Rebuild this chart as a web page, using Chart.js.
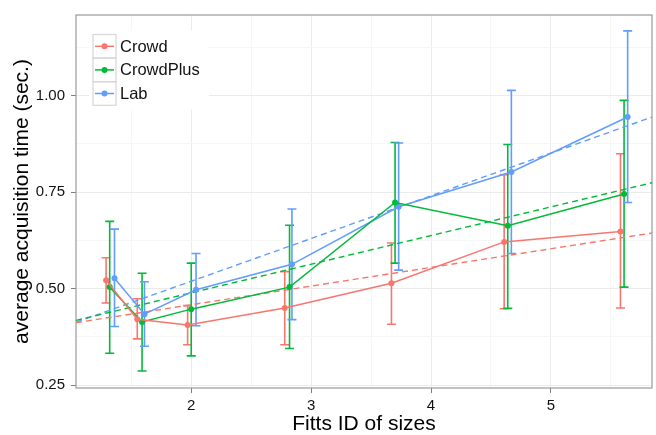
<!DOCTYPE html>
<html>
<head>
<meta charset="utf-8">
<script src="https://cdn.jsdelivr.net/npm/chart.js@4.4.1/dist/chart.umd.min.js"></script>
<style>
  html, body { margin: 0; padding: 0; background: #fff; }
</style>
</head>
<body>
<canvas id="chart" width="656" height="435"></canvas>
<script>
const seriesNames = ["Crowd", "CrowdPlus", "Lab"]
const seriesColors = ["#F8766D", "#00BA38", "#619CFF"]

// x is dodged a little per group, like position_dodge in the original
const crowdX  = [1.29, 1.55, 1.97, 2.78, 3.67, 4.61, 5.58]
const crowdY  = [0.522, 0.421, 0.406, 0.450, 0.514, 0.621, 0.648]
const crowdLo = [0.463, 0.370, 0.355, 0.355, 0.408, 0.448, 0.450]
const crowdHi = [0.580, 0.474, 0.456, 0.544, 0.618, 0.795, 0.849]

const plusX  = [1.32, 1.59, 2.00, 2.82, 3.70, 4.64, 5.61]
const plusY  = [0.504, 0.414, 0.447, 0.504, 0.723, 0.663, 0.745]
const plusLo = [0.333, 0.287, 0.326, 0.345, 0.566, 0.449, 0.504]
const plusHi = [0.674, 0.540, 0.566, 0.664, 0.878, 0.873, 0.987]

const labX  = [1.36, 1.61, 2.04, 2.84, 3.73, 4.67, 5.64]
const labY  = [0.527, 0.434, 0.497, 0.563, 0.712, 0.802, 0.944]
const labLo = [0.402, 0.351, 0.404, 0.420, 0.548, 0.591, 0.723]
const labHi = [0.654, 0.518, 0.591, 0.706, 0.877, 1.013, 1.167]

// linear fits, value at the left and right end of the x range
const fitX     = [1.039, 5.843]
const crowdFit = [0.412, 0.644]
const plusFit  = [0.418, 0.774]
const labFit   = [0.413, 0.944]

const xTicks = [1.5, 2, 2.5, 3, 3.5, 4, 4.5, 5, 5.5]
const yTicks = [0.25, 0.375, 0.5, 0.625, 0.75, 0.875, 1.0, 1.125]

const groups = [
  { x: crowdX, y: crowdY, lo: crowdLo, hi: crowdHi, fit: crowdFit },
  { x: plusX,  y: plusY,  lo: plusLo,  hi: plusHi,  fit: plusFit },
  { x: labX,   y: labY,   lo: labLo,   hi: labHi,   fit: labFit }
]

const FONT = '"Liberation Sans", Arial, sans-serif'

function pts(xs, ys) {
  return xs.map((x, i) => ({ x: x, y: ys[i] }))
}

function isMajor(v) {
  return Math.abs(v - Math.round(v)) < 1e-6
}

function isMajorY(v) {
  return Math.abs(v * 4 - Math.round(v * 4)) < 1e-6
}

var datasets = []
groups.forEach((g, i) => {
  datasets.push({
    label: seriesNames[i],
    data: pts(g.x, g.y),
    showLine: true,
    borderColor: seriesColors[i],
    backgroundColor: seriesColors[i],
    borderWidth: 1.5,
    pointRadius: 3,
    pointBorderWidth: 0
  })
})
groups.forEach((g, i) => {
  datasets.push({
    label: seriesNames[i] + " fit",
    data: pts(fitX, g.fit),
    showLine: true,
    borderColor: seriesColors[i],
    borderWidth: 1.4,
    borderDash: [6, 4],
    pointRadius: 0
  })
})

// error bars drawn under the lines
const errorBars = {
  id: "errorBars",
  beforeDatasetsDraw(chart) {
    const { ctx, scales: { x, y } } = chart
    ctx.save()
    ctx.lineWidth = 1.6
    groups.forEach((g, i) => {
      ctx.strokeStyle = seriesColors[i]
      g.x.forEach((v, j) => {
        var px = x.getPixelForValue(v)
        var top = y.getPixelForValue(g.hi[j])
        var bot = y.getPixelForValue(g.lo[j])
        ctx.beginPath()
        ctx.moveTo(px, top); ctx.lineTo(px, bot)
        ctx.moveTo(px - 4.5, top); ctx.lineTo(px + 4.5, top)
        ctx.moveTo(px - 4.5, bot); ctx.lineTo(px + 4.5, bot)
        ctx.stroke()
      })
    })
    ctx.restore()
  }
}

const panelBorder = {
  id: "panelBorder",
  beforeDatasetsDraw(chart) {
    const { ctx, chartArea: a } = chart
    ctx.save()
    ctx.strokeStyle = "#9a9a9a"
    ctx.lineWidth = 1.2
    ctx.strokeRect(a.left, a.top, a.right - a.left, a.bottom - a.top)
    ctx.restore()
  }
}

// ggplot style legend box in the top left corner
const keyLegend = {
  id: "keyLegend",
  afterDraw(chart) {
    const ctx = chart.ctx
    var left = 93, top = 34.5, rowH = 23.6, keyW = 23
    ctx.save()
    ctx.fillStyle = "#fff"
    ctx.fillRect(left - 4, top - 4, 120, rowH * 3 + 8)
    seriesNames.forEach((name, i) => {
      var yTop = top + i * rowH
      var cy = yTop + rowH / 2
      ctx.strokeStyle = "#d6d6d6"
      ctx.lineWidth = 1.2
      ctx.strokeRect(left, yTop, keyW, rowH)
      ctx.strokeStyle = seriesColors[i]
      ctx.lineWidth = 1.5
      ctx.beginPath()
      ctx.moveTo(left + 2, cy); ctx.lineTo(left + keyW - 2, cy)
      ctx.stroke()
      ctx.fillStyle = seriesColors[i]
      ctx.beginPath()
      ctx.arc(left + keyW / 2, cy, 3, 0, Math.PI * 2)
      ctx.fill()
      ctx.fillStyle = "#111"
      ctx.font = "16.5px " + FONT
      ctx.textBaseline = "middle"
      ctx.fillText(name, left + keyW + 4, cy + 1)
    })
    ctx.restore()
  }
}

new Chart(document.getElementById("chart"), {
  type: "scatter",
  data: { datasets: datasets },
  plugins: [errorBars, panelBorder, keyLegend],
  options: {
    responsive: false,
    devicePixelRatio: 1,
    animation: false,
    layout: { padding: { top: 12, right: 0, left: 0, bottom: 0 } },
    plugins: { legend: { display: false }, tooltip: { enabled: false } },
    scales: {
      x: {
        type: "linear",
        min: fitX[0],
        max: fitX[1],
        afterBuildTicks: s => { s.ticks = xTicks.map(v => ({ value: v })) },
        afterFit: s => { s.height = 47 },
        border: { display: false },
        grid: {
          color: c => isMajor(c.tick.value) ? "#ebebeb" : "#f6f6f6",
          tickColor: c => isMajor(c.tick.value) ? "#808080" : "rgba(0,0,0,0)",
          tickLength: 5,
          lineWidth: 1
        },
        ticks: {
          padding: 4,
          color: "#111",
          font: { family: FONT, size: 15 },
          callback: v => isMajor(v) ? String(Math.round(v)) : ""
        },
        title: {
          display: true,
          text: "Fitts ID of sizes",
          color: "#000",
          font: { family: FONT, size: 21, lineHeight: 1 },
          padding: { top: 0, bottom: 0 }
        }
      },
      y: {
        min: 0.243,
        max: 1.208,
        afterBuildTicks: s => { s.ticks = yTicks.map(v => ({ value: v })) },
        afterFit: s => { s.width = 76 },
        border: { display: false },
        grid: {
          color: c => isMajorY(c.tick.value) ? "#ebebeb" : "#f6f6f6",
          tickColor: c => isMajorY(c.tick.value) ? "#808080" : "rgba(0,0,0,0)",
          tickLength: 5,
          lineWidth: 1
        },
        ticks: {
          padding: 6,
          color: "#111",
          font: { family: FONT, size: 15 },
          callback: v => isMajorY(v) ? v.toFixed(2) : ""
        },
        title: {
          display: true,
          text: "average acquisition time (sec.)",
          color: "#000",
          font: { family: FONT, size: 21, lineHeight: 1 },
          padding: { top: 12, bottom: 0 }
        }
      }
    }
  }
})
</script>
</body>
</html>
